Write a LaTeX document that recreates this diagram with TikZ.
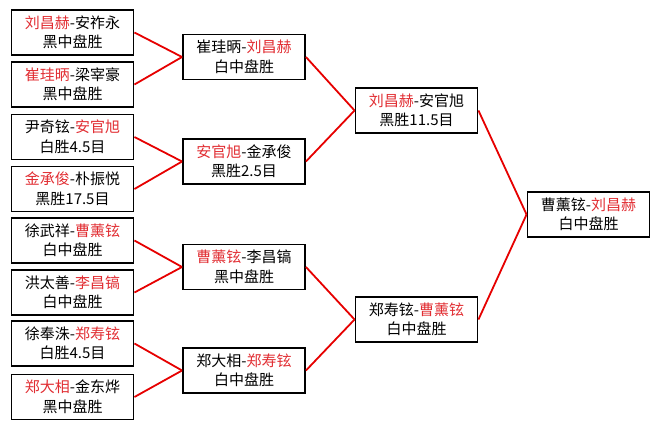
\documentclass[tikz,border=0pt]{standalone}
\usepackage{fontspec}
\setmainfont{Noto Sans CJK SC}
\usepackage{tikz}
\definecolor{namered}{RGB}{225,45,50}
\definecolor{linered}{RGB}{230,0,0}
\newcommand{\winner}[1]{\textcolor{namered}{#1}}

\begin{document}
\begin{tikzpicture}
  [x=1pt,y=1pt,every node/.style={draw,line width=1.9pt,minimum width=122pt,minimum height=45pt,inner sep=0pt,align=center,font=\fontsize{15}{19.5}\selectfont}] % boxes of the draw
  \useasboundingbox (0,0) rectangle (660,429);

  % first round
  \node (r1) at (72.5,396.5) {\winner{刘昌赫}-安祚永\\黑中盘胜};
  \node (r2) at (72.5,344.5) {\winner{崔珪昞}-梁宰豪\\黑中盘胜};
  \node (r3) at (72.5,292)   {尹奇铉-\winner{安官旭}\\白胜4.5目};
  \node (r4) at (72.5,240)   {\winner{金承俊}-朴振悦\\黑胜17.5目};
  \node (r5) at (72.5,188.5) {徐武祥-\winner{曹薰铉}\\白中盘胜};
  \node (r6) at (72.5,136.5) {洪太善-\winner{李昌镐}\\白中盘胜};
  \node (r7) at (72.5,85.5)  {徐奉洙-\winner{郑寿铉}\\白胜4.5目};
  \node (r8) at (72.5,32)    {\winner{郑大相}-金东烨\\黑中盘胜};

  % second round
  \node (q1) at (244,372)   {崔珪昞-\winner{刘昌赫}\\白中盘胜};
  \node (q2) at (244,267.5) {\winner{安官旭}-金承俊\\黑胜2.5目};
  \node (q3) at (244,162)   {\winner{曹薰铉}-李昌镐\\黑中盘胜};
  \node (q4) at (244,58.5)  {郑大相-\winner{郑寿铉}\\白中盘胜};

  % semifinal and final
  \node (s1) at (416.5,318.5) {\winner{刘昌赫}-安官旭\\黑胜11.5目};
  \node (s2) at (416.5,109.5) {郑寿铉-\winner{曹薰铉}\\白中盘胜};
  \node (f)  at (588.5,214.5) {曹薰铉-\winner{刘昌赫}\\白中盘胜};

  \draw[linered,line width=1.8pt] (r1.east) -- (q1.west);
  \draw[linered,line width=1.8pt] (r2.east) -- (q1.west);
  \draw[linered,line width=1.8pt] (r3.east) -- (q2.west);
  \draw[linered,line width=1.8pt] (r4.east) -- (q2.west);
  \draw[linered,line width=1.8pt] (r5.east) -- (q3.west);
  \draw[linered,line width=1.8pt] (r6.east) -- (q3.west);
  \draw[linered,line width=1.8pt] (r7.east) -- (q4.west);
  \draw[linered,line width=1.8pt] (r8.east) -- (q4.west);
  \draw[linered,line width=1.8pt] (q1.east) -- (s1.west);
  \draw[linered,line width=1.8pt] (q2.east) -- (s1.west);
  \draw[linered,line width=1.8pt] (q3.east) -- (s2.west);
  \draw[linered,line width=1.8pt] (q4.east) -- (s2.west);
  \draw[linered,line width=1.8pt] (s1.east) -- (f.west);
  \draw[linered,line width=1.8pt] (s2.east) -- (f.west);

\end{tikzpicture}
\end{document}
